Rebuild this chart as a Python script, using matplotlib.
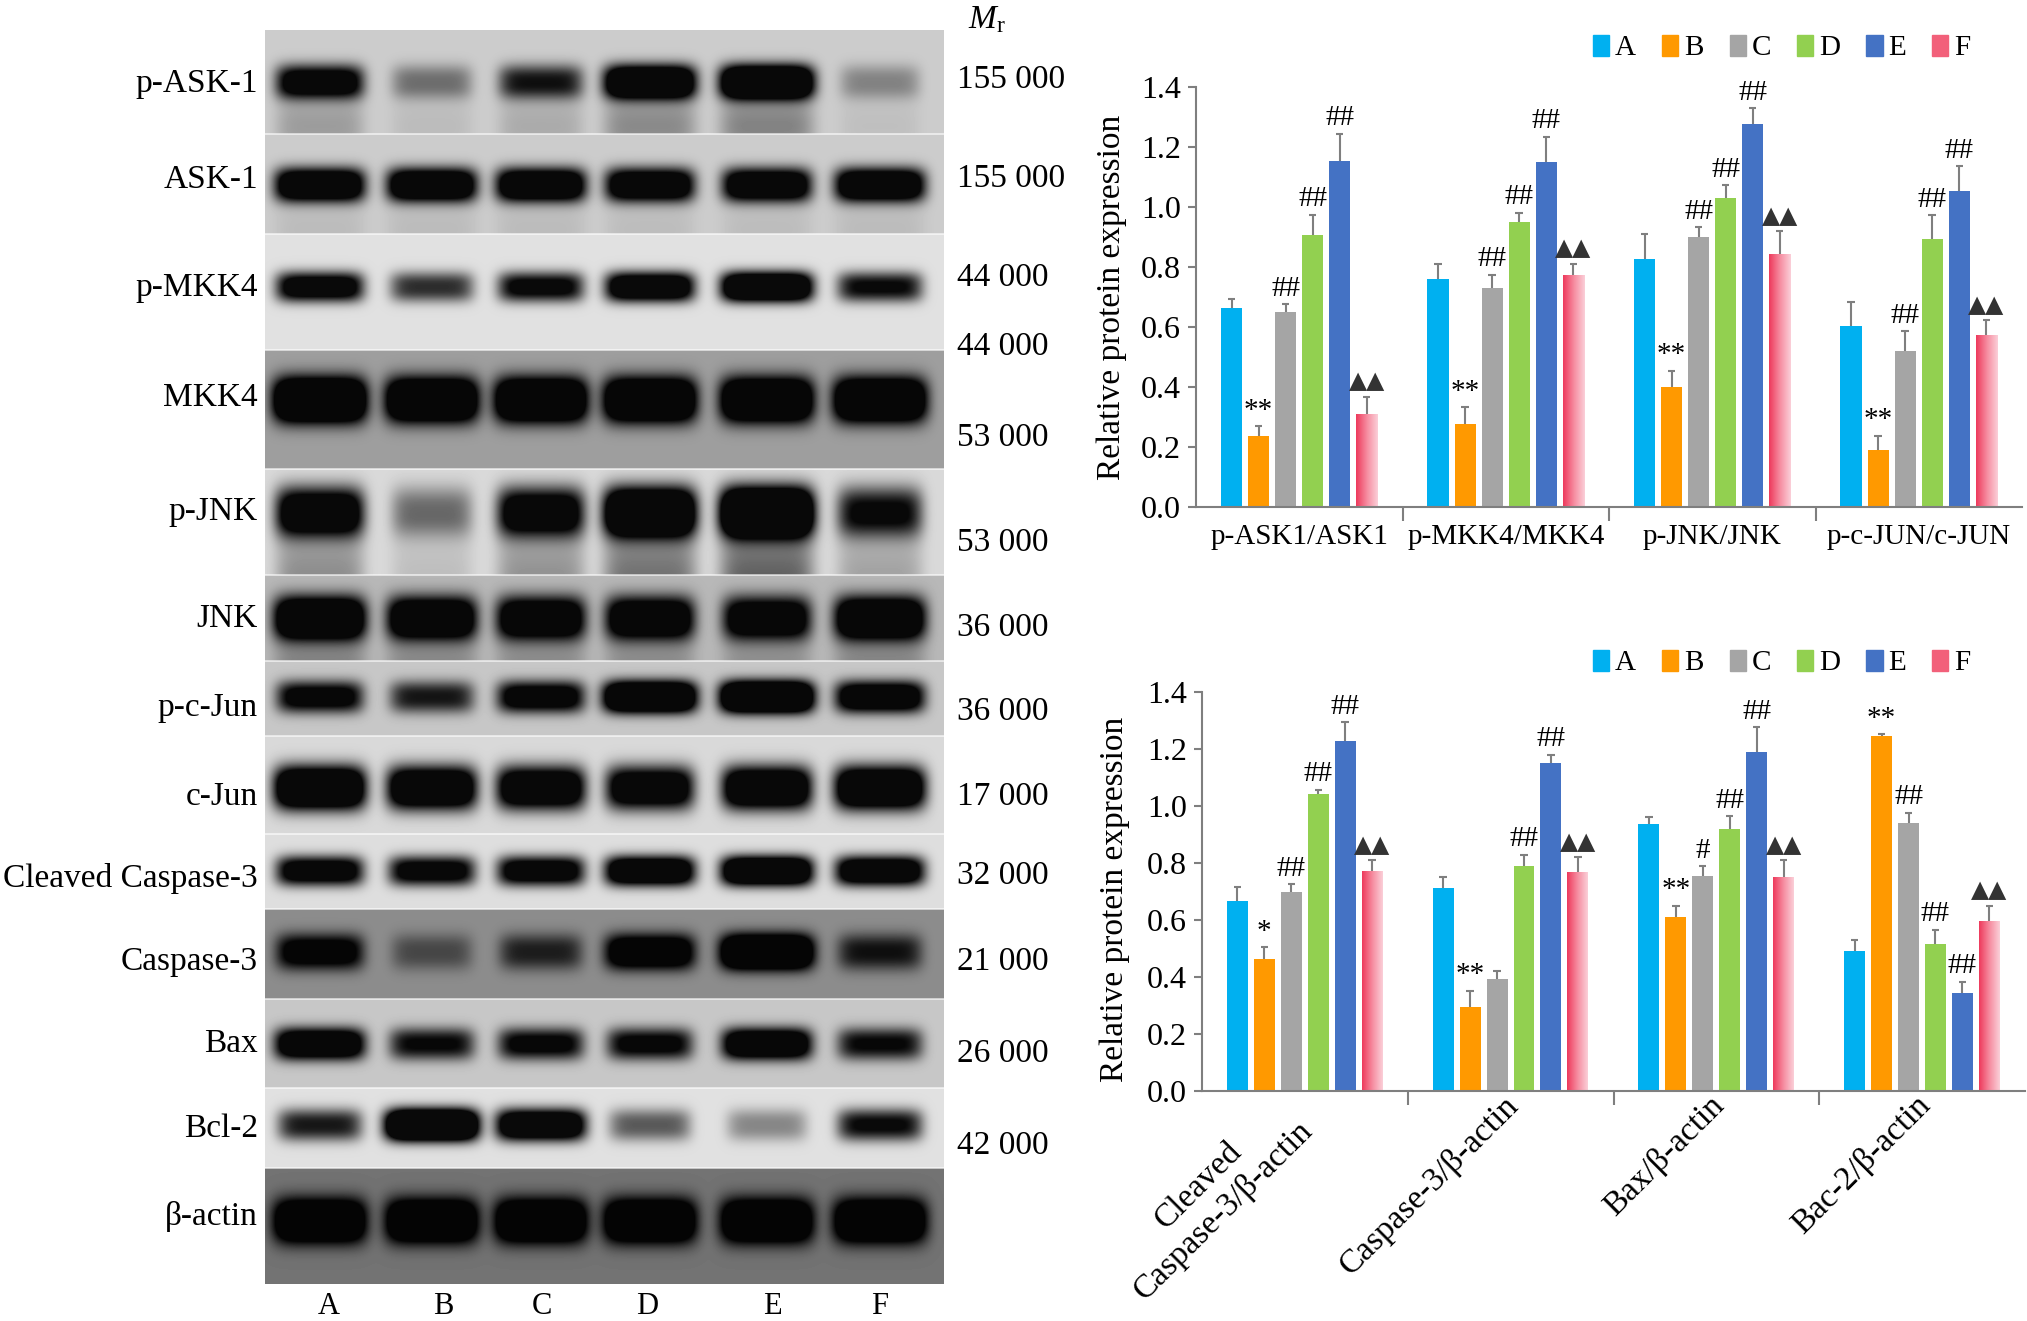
import numpy as np
import matplotlib
matplotlib.use("Agg")
import matplotlib.pyplot as plt
from matplotlib.patches import Patch
from matplotlib.colors import LinearSegmentedColormap
from matplotlib.transforms import ScaledTranslation

plt.rcParams['font.family'] = ['Liberation Serif', 'DejaVu Sans']
plt.rcParams['mathtext.fontset'] = 'custom'
plt.rcParams['mathtext.it'] = 'Liberation Serif:italic'
plt.rcParams['mathtext.rm'] = 'Liberation Serif'

lanes = ['A', 'B', 'C', 'D', 'E', 'F']
colors = ['#00B0F0', '#FF9900', '#A5A5A5', '#92D050', '#4472C4', '#F2607A']

# ---------------- western blot (left) ----------------
blot_rows = ['p-ASK-1', 'ASK-1', 'p-MKK4', 'MKK4', 'p-JNK', 'JNK', 'p-c-Jun', 'c-Jun',
             'Cleaved Caspase-3', 'Caspase-3', 'Bax', 'Bcl-2', 'β-actin']
blot_mr = ['155 000', '155 000', '44 000', '44 000', '53 000', '53 000', '36 000',
           '36 000', '17 000', '32 000', '21 000', '26 000', '42 000']
# band darkness per lane A-F
blot_amp = [[1.3, 0.45, 0.9, 1.8, 2.0, 0.35],
            [1.6, 1.6, 1.6, 1.5, 1.5, 1.6],
            [1.3, 0.8, 1.1, 1.5, 1.8, 1.0],
            [2.2, 2.0, 2.0, 2.0, 2.0, 2.0],
            [1.4, 0.5, 1.3, 1.9, 2.2, 1.0],
            [1.8, 1.6, 1.5, 1.5, 1.4, 1.7],
            [1.2, 0.9, 1.3, 2.0, 2.2, 1.5],
            [1.8, 1.6, 1.5, 1.4, 1.6, 1.7],
            [1.3, 1.2, 1.3, 1.6, 1.8, 1.5],
            [1.3, 0.5, 0.8, 1.6, 2.2, 0.9],
            [1.6, 1.0, 1.1, 1.1, 1.6, 1.0],
            [0.9, 2.2, 1.6, 0.6, 0.4, 1.0],
            [2.0, 2.0, 2.0, 2.0, 2.0, 2.0]]
blot_bg = [0.80, 0.80, 0.88, 0.62, 0.85, 0.72, 0.78, 0.85, 0.87, 0.55, 0.78, 0.88, 0.45]
blot_tail = [0.18, 0.05, 0, 0, 0.25, 0.18, 0, 0, 0, 0, 0, 0, 0]

# layout of blot (pixels)
panel_edges = [30, 134, 234, 350, 469, 575, 661, 736, 834, 909, 999, 1088, 1168, 1284]
band_y = [82, 185, 287, 400, 512, 618, 697, 788, 871, 952, 1044, 1125, 1221]
band_h = [17, 17, 15, 23, 25, 22, 16, 22, 15, 18, 16, 16, 23]
label_y = [84, 180, 288, 398, 512, 619, 708, 797, 878, 962, 1044, 1129, 1216]
mr_y = [80, 179, 278, 347, 438, 543, 628, 712, 797, 876, 962, 1054, 1146]
lane_x_band = [320, 432, 541, 650, 767, 880]
lane_x_lbl = [329, 443, 542, 647, 772, 880]
blot_left, blot_right = 265, 944

# ---------------- bar charts (right) ----------------
top_cats = ['p-ASK1/ASK1', 'p-MKK4/MKK4', 'p-JNK/JNK', 'p-c-JUN/c-JUN']
top_vals = [[0.664, 0.237, 0.650, 0.906, 1.153, 0.311],
            [0.759, 0.276, 0.731, 0.951, 1.151, 0.774],
            [0.826, 0.401, 0.899, 1.031, 1.277, 0.844],
            [0.605, 0.189, 0.519, 0.894, 1.055, 0.574]]
top_errs = [[0.030, 0.033, 0.027, 0.069, 0.091, 0.056],
            [0.051, 0.057, 0.043, 0.030, 0.083, 0.036],
            [0.083, 0.054, 0.033, 0.041, 0.052, 0.075],
            [0.077, 0.049, 0.067, 0.079, 0.082, 0.048]]
top_marks = [['', '**', '##', '##', '##', '▲▲'],
             ['', '**', '##', '##', '##', '▲▲'],
             ['', '**', '##', '##', '##', '▲▲'],
             ['', '**', '##', '##', '##', '▲▲']]

bot_cats = ['Cleaved\nCaspase-3/β-actin', 'Caspase-3/β-actin', 'Bax/β-actin', 'Bac-2/β-actin']
bot_vals = [[0.667, 0.464, 0.700, 1.041, 1.227, 0.772],
            [0.713, 0.293, 0.393, 0.788, 1.150, 0.768],
            [0.938, 0.612, 0.754, 0.919, 1.188, 0.750],
            [0.491, 1.247, 0.942, 0.516, 0.343, 0.596]]
bot_errs = [[0.049, 0.041, 0.025, 0.016, 0.068, 0.037],
            [0.037, 0.059, 0.027, 0.041, 0.030, 0.053],
            [0.025, 0.038, 0.036, 0.045, 0.088, 0.059],
            [0.038, 0.004, 0.035, 0.050, 0.041, 0.054]]
bot_marks = [['', '*', '##', '##', '##', '▲▲'],
             ['', '**', '', '##', '##', '▲▲'],
             ['', '**', '#', '##', '##', '▲▲'],
             ['', '**', '##', '##', '##', '▲▲']]

W, H = 2027, 1321
fig = plt.figure(figsize=(W / 100, H / 100), dpi=100)

# blot drawn in pixel coordinates
ax0 = fig.add_axes([0, 0, 1, 1])
ax0.set_xlim(0, W)
ax0.set_ylim(H, 0)
ax0.axis('off')

ys = np.arange(panel_edges[0], panel_edges[-1]) + 0.5
xs = np.arange(blot_left, blot_right) + 0.5
X, Y = np.meshgrid(xs, ys)
img = np.ones(X.shape)
for i in range(len(blot_rows)):
    sel = (Y >= panel_edges[i]) & (Y < panel_edges[i + 1])
    dark = np.zeros(X.shape)
    for j in range(6):
        a = blot_amp[i][j]
        wx = 38 + 4.5 * min(a, 2)
        fx = np.exp(-(np.abs(X - lane_x_band[j]) / wx) ** 6)
        dark += a * fx * np.exp(-(np.abs(Y - band_y[i]) / band_h[i]) ** 2.6)
        if blot_tail[i]:
            dy2 = np.abs(Y - band_y[i] - 2.6 * band_h[i]) / (2.0 * band_h[i])
            dark += blot_tail[i] * a * fx * np.exp(-dy2 ** 2)
    val = blot_bg[i] * (1 - np.clip(dark, 0, 0.96))
    img[sel] = val[sel]

ax0.imshow(img, cmap='gray', vmin=0, vmax=1, aspect='auto', interpolation='bilinear',
           extent=(blot_left, blot_right, panel_edges[-1], panel_edges[0]))
for e in panel_edges[1:-1]:
    ax0.plot([blot_left, blot_right], [e, e], color='white', lw=1.2, alpha=0.7)

for i, name in enumerate(blot_rows):
    ax0.text(258, label_y[i], name, ha='right', va='center', fontsize=24)
    ax0.text(957, mr_y[i], blot_mr[i], ha='left', va='center', fontsize=24)
ax0.text(968, 20, r'$M_\mathrm{r}$', ha='left', va='center', fontsize=24)
for j, l in enumerate(lanes):
    ax0.text(lane_x_lbl[j], 1306, l, ha='center', va='center', fontsize=22)

pink = LinearSegmentedColormap.from_list('pink', ['#EE3A5C', '#F68CA0', '#FBCFD8'])
grad = np.linspace(0, 1, 64).reshape(1, -1)


def draw_chart(ax, vals, errs, marks, cats):
    vals = np.array(vals)
    errs = np.array(errs)
    g = np.arange(len(cats))
    for j in range(6):
        x = g - 0.5 + 0.172 + 0.131 * j
        if j < 5:
            ax.bar(x, vals[:, j], width=0.102, color=colors[j], lw=0, zorder=2)
        else:
            bars = ax.bar(x, vals[:, j], width=0.102, color='none', lw=0, zorder=2)
            for b in bars:
                bx, bw, bh = b.get_x(), b.get_width(), b.get_height()
                im = ax.imshow(grad, cmap=pink, aspect='auto', zorder=2,
                               extent=(bx, bx + bw, 0, bh))
                im.set_clip_path(b)
        top = vals[:, j] + errs[:, j]
        ax.vlines(x, vals[:, j], top, color='#7F7F7F', lw=1.5, zorder=3)
        ax.hlines(top, x - 0.018, x + 0.018, color='#7F7F7F', lw=1.5, zorder=3)
        for k in range(len(cats)):
            m = marks[k][j]
            if not m:
                continue
            if '▲' in m:
                ax.text(x[k], top[k] + 0.012, m, ha='center', va='bottom', fontsize=17,
                        color='#333333', family='DejaVu Sans')
            else:
                ax.text(x[k], top[k] + 0.008, m, ha='center', va='bottom', fontsize=21)
    ax.set_xlim(-0.5, len(cats) - 0.5)
    ax.set_ylim(0, 1.4)
    ax.set_yticks(np.arange(0, 1.41, 0.2))
    ax.set_yticklabels(['%.1f' % v for v in np.arange(0, 1.41, 0.2)], fontsize=23)
    ax.set_xticks(g)
    ax.set_xticks(g[:-1] + 0.5, minor=True)
    ax.tick_params(axis='x', which='major', length=0)
    ax.tick_params(axis='x', which='minor', length=10, width=1.5, color='#7F7F7F')
    ax.tick_params(axis='y', length=6, width=1.5, color='#7F7F7F', pad=5)
    for s in ['top', 'right']:
        ax.spines[s].set_visible(False)
    for s in ['left', 'bottom']:
        ax.spines[s].set_color('#7F7F7F')
        ax.spines[s].set_linewidth(1.5)
    ax.set_ylabel('Relative protein expression', fontsize=24)
    ax.patch.set_alpha(0)


ax1 = fig.add_axes([1196 / W, 1 - 507 / H, 826 / W, 420 / H])
draw_chart(ax1, top_vals, top_errs, top_marks, top_cats)
ax1.set_xticklabels(top_cats, fontsize=21)
ax1.tick_params(axis='x', which='major', pad=12)
ax1.yaxis.set_label_coords(-0.083, 0.5)

ax2 = fig.add_axes([1202 / W, 1 - 1091 / H, 823 / W, 399 / H])
draw_chart(ax2, bot_vals, bot_errs, bot_marks, bot_cats)
ax2.set_xticklabels(bot_cats, fontsize=24, rotation=45, ha='right', multialignment='center')
ax2.tick_params(axis='x', which='major', pad=2)
for t in ax2.get_xticklabels():
    t.set_transform(t.get_transform() + ScaledTranslation(0.14, 0.04, fig.dpi_scale_trans))
ax2.yaxis.set_label_coords(-0.087, 0.48)

handles = [Patch(color=c) for c in colors]
for yy in [1 - 48 / H, 1 - 663 / H]:
    fig.legend(handles, lanes, ncol=6, frameon=False, loc='center',
               bbox_to_anchor=(0.879, yy), fontsize=21, handlelength=0.55,
               handleheight=0.75, handletextpad=0.2, columnspacing=0.9)

fig.savefig('out.png', dpi=100)
